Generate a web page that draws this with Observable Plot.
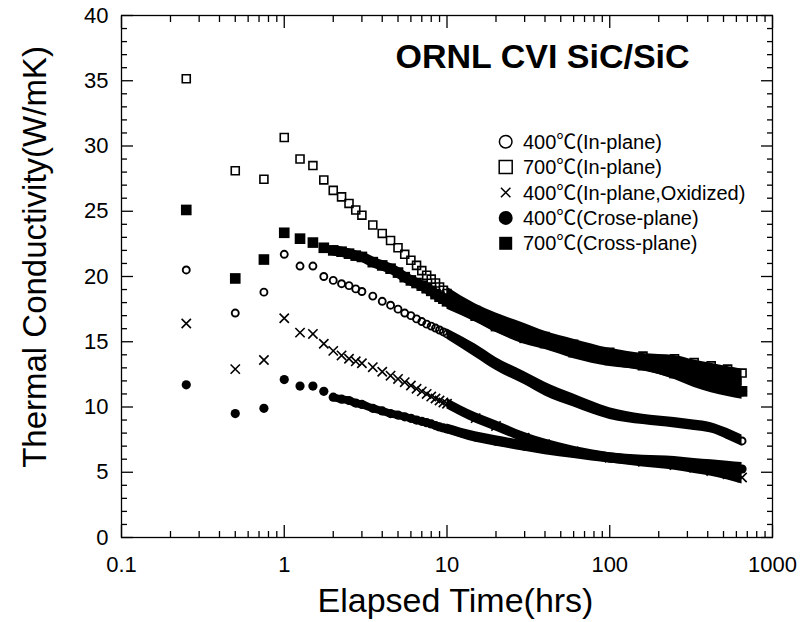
<!DOCTYPE html>
<html><head><meta charset="utf-8">
<script src="https://cdn.jsdelivr.net/npm/d3@7"></script>
<script src="https://cdn.jsdelivr.net/npm/@observablehq/plot@0.6"></script>
<style>
body{margin:0;background:#fff;}
#chart{position:relative;width:800px;height:622px;}
svg{font-family:"Liberation Sans",Arial,"Noto Sans CJK JP",sans-serif;}
</style></head><body><div id="chart"></div>
<script>
// ---- data ----
const seriesNames = ["400℃(In-plane)", "700℃(In-plane)", "400℃(In-plane,Oxidized)", "400℃(Crose-plane)", "700℃(Cross-plane)"];
const chartTitle = "ORNL CVI SiC/SiC";
const xLabel = "Elapsed Time(hrs)";
const yLabel = "Thermal Conductivity(W/mK)";
const xMajorTicks = [0.1, 1, 10, 100, 1000];
const xMinorTicks = [0.2,0.3,0.4,0.5,0.6,0.7,0.8,0.9,2,3,4,5,6,7,8,9,20,30,40,50,60,70,80,90,200,300,400,500,600,700,800,900];
const yMajorTicks = [0, 5, 10, 15, 20, 25, 30, 35, 40];
const yMinorTicks = [1,2,3,4,6,7,8,9,11,12,13,14,16,17,18,19,21,22,23,24,26,27,28,29,31,32,33,34,36,37,38,39];

// early discrete readings (hrs)
const timeEarly = [0.25, 0.5, 0.75, 1, 1.25, 1.5, 1.75, 2, 2.25, 2.5, 2.75, 3];
const inPlane400Early  = [20.5, 17.2, 18.8, 21.7, 20.8, 20.8, 20.0, 19.7, 19.45, 19.3, 19.05, 18.85];
const inPlane700Early  = [35.15, 28.1, 27.45, 30.65, 29.0, 28.5, 27.4, 26.6, 26.1, 25.6, 25.1, 24.7];
const oxidized400Early = [16.4, 12.9, 13.6, 16.8, 15.7, 15.6, 14.85, 14.3, 13.95, 13.7, 13.5, 13.35];
const cross400Early    = [11.7, 9.5, 9.9, 12.1, 11.6, 11.6, 11.2, 10.75, 10.6, 10.5, 10.3, 10.2];
const cross700Early    = [25.1, 19.85, 21.3, 23.35, 22.9, 22.6, 22.2, 22.0, 21.9, 21.75, 21.6, 21.5];

// middle readings
const timeMid = [3.5, 4, 4.5, 5, 5.5, 6, 6.5, 7, 7.5, 8, 8.5, 9, 9.5];
const inPlane400Mid  = [18.5, 18.1, 17.8, 17.5, 17.2, 17.0, 16.75, 16.55, 16.35, 16.2, 16.05, 15.9, 15.75];
const inPlane700Mid  = [23.95, 23.3, 22.76, 22.2, 21.7, 21.25, 20.85, 20.45, 20.1, 19.8, 19.5, 19.2, 18.95];
const oxidized400Mid = [13.05, 12.7, 12.4, 12.15, 11.9, 11.65, 11.4, 11.2, 11.0, 10.8, 10.65, 10.5, 10.35];
const cross400Mid    = [9.9, 9.7, 9.5, 9.38, 9.25, 9.13, 9.0, 8.9, 8.8, 8.7, 8.58, 8.47, 8.4];
const cross700Mid    = [21.1, 20.85, 20.6, 20.3, 19.95, 19.7, 19.5, 19.3, 19.1, 18.9, 18.65, 18.45, 18.3];

// dense late data: band of overlapping points (centre, lower and upper edge)
const timeLate = [10, 15, 20, 30, 40, 60, 100, 160, 250, 330, 420, 530, 650];
const inPlane400Late   = [15.6, 14.3, 13.3, 12.2, 11.35, 10.5, 9.5, 9.05, 8.8, 8.6, 8.4, 7.9, 7.4];
const inPlane400Lo     = [15.2, 13.8, 12.8, 11.7, 10.85, 10.0, 9.05, 8.65, 8.4, 8.2, 8.0, 7.5, 7.0];
const inPlane400Hi     = [16.0, 14.8, 13.8, 12.7, 11.9, 11.0, 9.95, 9.45, 9.2, 9.0, 8.8, 8.35, 7.85];
const inPlane700Late   = [18.7, 17.4, 16.7, 15.9, 15.4, 14.8, 14.2, 13.9, 13.7, 13.4, 13.15, 12.9, 12.6];
const inPlane700Lo     = [18.2, 16.9, 16.2, 15.3, 14.8, 14.2, 13.6, 13.3, 13.0, 12.6, 12.3, 12.0, 11.6];
const inPlane700Hi     = [19.2, 17.9, 17.2, 16.4, 15.8, 15.2, 14.5, 14.1, 13.95, 13.6, 13.35, 13.1, 12.9];
const oxidized400Late  = [10.25, 9.15, 8.55, 7.65, 7.15, 6.6, 6.1, 5.8, 5.55, 5.35, 5.1, 4.85, 4.6];
const oxidized400Lo    = [9.85, 8.75, 8.15, 7.25, 6.75, 6.2, 5.7, 5.4, 5.15, 4.9, 4.7, 4.4, 4.1];
const oxidized400Hi    = [10.65, 9.55, 8.95, 8.05, 7.55, 7.0, 6.5, 6.2, 5.95, 5.75, 5.5, 5.3, 5.0];
const cross400Late     = [8.32, 7.7, 7.38, 7.0, 6.75, 6.45, 6.1, 5.9, 5.75, 5.6, 5.5, 5.35, 5.25];
const cross400Lo       = [7.95, 7.3, 7.0, 6.6, 6.35, 6.05, 5.7, 5.5, 5.3, 5.15, 5.0, 4.9, 4.8];
const cross400Hi       = [8.7, 8.1, 7.8, 7.4, 7.15, 6.85, 6.5, 6.3, 6.2, 6.05, 5.95, 5.85, 5.75];
const cross700Late     = [18.1, 17.0, 16.2, 15.3, 14.9, 14.2, 13.6, 13.2, 12.6, 12.1, 11.7, 11.4, 11.2];
const cross700Lo       = [17.5, 16.5, 15.7, 14.8, 14.4, 13.7, 13.1, 12.8, 12.1, 11.5, 11.1, 10.8, 10.6];
const cross700Hi       = [18.6, 17.5, 16.7, 15.8, 15.3, 14.7, 14.0, 13.6, 13.1, 12.7, 12.4, 12.2, 12.2];

// ---- build tables ----
const pts = (times, vals) => times.map((t, i) => ({t, v: vals[i]}));
const band = (times, c, lo, hi) => times.map((t, i) => ({t, v: c[i], lo: lo[i], hi: hi[i]}));

const series = [
  {name: seriesNames[0], early: inPlane400Early, mid: inPlane400Mid, late: band(timeLate, inPlane400Late, inPlane400Lo, inPlane400Hi), symbol: "circle", r: 3.5, filled: false, sw: 1.9},
  {name: seriesNames[1], early: inPlane700Early, mid: inPlane700Mid, late: band(timeLate, inPlane700Late, inPlane700Lo, inPlane700Hi), symbol: "square", r: 4.5, filled: false, sw: 1.6},
  {name: seriesNames[2], early: oxidized400Early, mid: oxidized400Mid, late: band(timeLate, oxidized400Late, oxidized400Lo, oxidized400Hi), symbol: "times", r: 4.3, filled: false, sw: 1.6},
  {name: seriesNames[3], early: cross400Early, mid: cross400Mid, late: band(timeLate, cross400Late, cross400Lo, cross400Hi), symbol: "circle", r: 4.6, filled: true, sw: 0},
  {name: seriesNames[4], early: cross700Early, mid: cross700Mid, late: band(timeLate, cross700Late, cross700Lo, cross700Hi), symbol: "square", r: 6, filled: true, sw: 0}
];

const marks = [];
for (const s of series) {
  const discrete = pts(timeEarly, s.early).concat(pts(timeMid, s.mid));
  marks.push(Plot.areaY(s.late, {x: "t", y1: "lo", y2: "hi", fill: "black", curve: "monotone-x"}));
  if (s.filled) {
    const joined = discrete.filter(d => d.t >= 2).concat(s.late.map(d => ({t: d.t, v: d.v})));
    marks.push(Plot.line(joined, {x: "t", y: "v", stroke: "black", strokeWidth: s.r * 1.7, curve: "monotone-x"}));
  }
  marks.push(Plot.dot(discrete.concat(s.late), {
    x: "t", y: "v", symbol: s.symbol, r: s.r,
    fill: s.filled ? "black" : "none", stroke: "black", strokeWidth: s.sw
  }));
}

const plot = Plot.plot({
  width: 800, height: 622,
  marginLeft: 121, marginRight: 28, marginTop: 15, marginBottom: 85,
  style: {fontFamily: '"Liberation Sans", Arial, "Noto Sans CJK JP", sans-serif', fontSize: "22px", color: "black", background: "white", overflow: "visible"},
  x: {type: "log", domain: [0.1, 1000]},
  y: {domain: [0, 40]},
  marks: [
    ...marks,
    Plot.frame({stroke: "black", strokeWidth: 1.3}),
    // x ticks (inward), bottom & top
    Plot.axisX({anchor: "bottom", ticks: xMajorTicks, tickSize: -12, tickFormat: () => "", label: null, strokeWidth: 1.3}),
    Plot.axisX({anchor: "bottom", ticks: xMinorTicks, tickSize: -6, tickFormat: () => "", label: null, strokeWidth: 1.3}),
    Plot.axisX({anchor: "top", ticks: xMajorTicks, tickSize: -12, tickFormat: () => "", label: null, strokeWidth: 1.3}),
    Plot.axisX({anchor: "top", ticks: xMinorTicks, tickSize: -6, tickFormat: () => "", label: null, strokeWidth: 1.3}),
    Plot.axisX({anchor: "bottom", ticks: xMajorTicks, tickSize: 0, tickPadding: 19, tickFormat: d => String(d), label: null, fontSize: 22}),
    // y ticks
    Plot.axisY({anchor: "left", ticks: yMajorTicks, tickSize: -12, tickFormat: () => "", label: null, strokeWidth: 1.3}),
    Plot.axisY({anchor: "left", ticks: yMinorTicks, tickSize: -6, tickFormat: () => "", label: null, strokeWidth: 1.3}),
    Plot.axisY({anchor: "right", ticks: yMajorTicks, tickSize: -12, tickFormat: () => "", label: null, strokeWidth: 1.3}),
    Plot.axisY({anchor: "right", ticks: yMinorTicks, tickSize: -6, tickFormat: () => "", label: null, strokeWidth: 1.3}),
    Plot.axisY({anchor: "left", ticks: yMajorTicks, tickSize: 0, tickPadding: 13, tickFormat: d => String(d), label: null, fontSize: 22}),
    // axis titles
    Plot.text([xLabel], {text: d => d, frameAnchor: "bottom", dx: 8.5, dy: 64, fontSize: 34, textAnchor: "middle", lineAnchor: "middle", fill: "black"}),
    Plot.text([yLabel], {text: d => d, frameAnchor: "left", dx: -86, dy: -19.5, rotate: -90, fontSize: 33, textAnchor: "middle", lineAnchor: "middle", fill: "black"}),
    // chart title
    Plot.text([chartTitle], {text: d => d, frameAnchor: "top-left", dx: 274, dy: 52, fontSize: 34, fontWeight: "bold", textAnchor: "start", lineAnchor: "bottom", fill: "black"})
  ]
});

// legend inside the frame
const svg = d3.select(plot);
const lg = svg.append("g").attr("class", "legend").attr("text-anchor", "start");
const legendSymbols = [
  {type: d3.symbolCircle, size: Math.PI * 6.3 * 6.3, fill: "none", stroke: "black"},
  {type: d3.symbolSquare, size: 13 * 13, fill: "none", stroke: "black"},
  {type: d3.symbolTimes, size: 60, fill: "none", stroke: "black"},
  {type: d3.symbolCircle, size: Math.PI * 7 * 7, fill: "black", stroke: "none"},
  {type: d3.symbolSquare, size: 13 * 13, fill: "black", stroke: "none"}
];
seriesNames.forEach((name, i) => {
  const cy = 141.7 + i * 25.4;
  const sym = legendSymbols[i];
  lg.append("path")
    .attr("d", d3.symbol(sym.type, sym.size)())
    .attr("transform", `translate(505.7,${cy})`)
    .attr("fill", sym.fill).attr("stroke", sym.stroke).attr("stroke-width", 1.5);
  lg.append("text")
    .attr("x", 523).attr("y", cy + 7)
    .attr("text-anchor", "start")
    .attr("font-size", 20).attr("fill", "black")
    .text(name);
});

document.getElementById("chart").appendChild(plot);
</script>
</body></html>
